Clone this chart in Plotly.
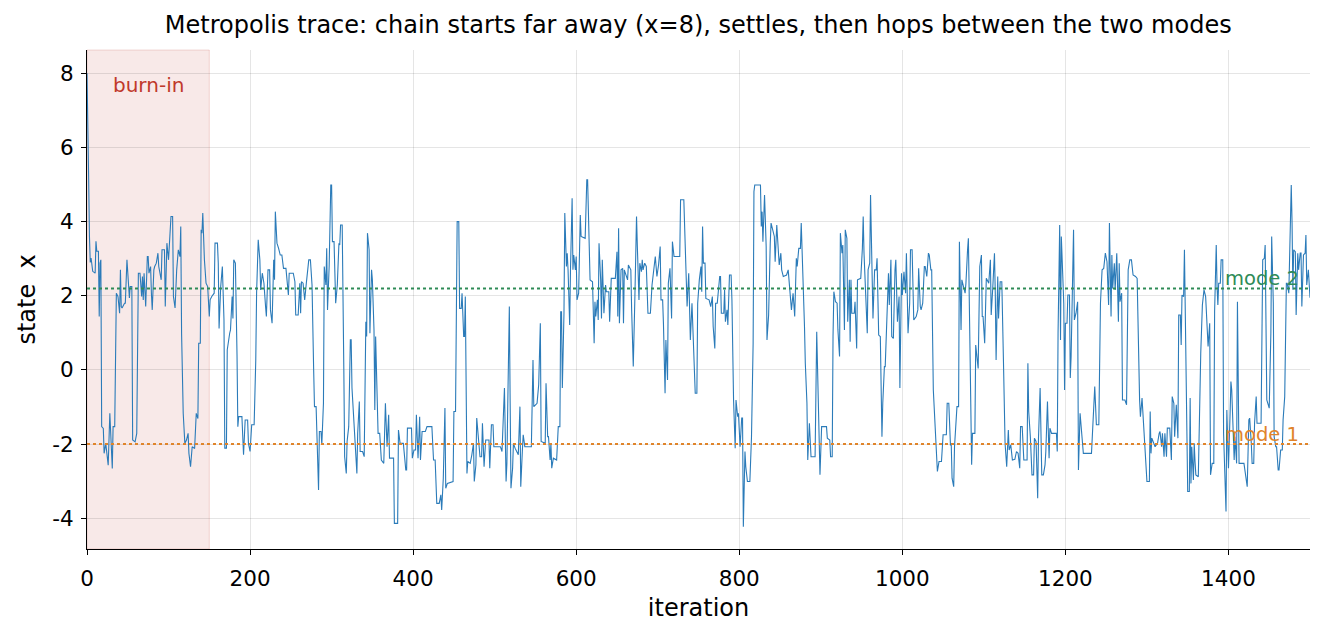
import plotly.graph_objects as go

# Metropolis chain trace: (iteration, state x)
trace = [
    (0, 8.0), (1, 6.9), (2, 5.2), (3, 3.6), (4, 2.9), (5, 3.02), (7, 2.66), (10, 2.61),
    (11, 3.47), (12, 3.20), (14, 3.20), (15, 1.44), (16, 2.88), (17, 2.97), (18, -1.53),
    (20, -1.58), (21, -2.25), (23, -1.98), (24, -2.25), (26, -2.57), (28, -1.17), (29, -1.71),
    (31, -2.66), (32, -1.53), (34, -1.53), (36, 2.07), (38, 1.98), (40, 1.53), (41, 2.70),
    (42, 1.71), (43, 1.67), (46, 1.80), (47, 1.80), (49, 2.97), (50, 2.52), (52, 1.94),
    (53, 2.25), (55, 2.25), (56, -1.89), (59, -1.94), (61, -1.71), (63, 2.61), (65, 2.61),
    (67, 1.98), (68, 2.52), (69, 1.89), (70, 2.61), (72, 1.71), (74, 3.06), (75, 3.06),
    (76, 2.61), (78, 2.79), (79, 2.07), (80, 1.62), (82, 2.70), (83, 2.79), (85, 2.88),
    (87, 3.15), (88, 2.79), (91, 2.43), (92, 3.24), (95, 3.24), (96, 1.71), (98, 3.42),
    (100, 2.97), (101, 3.51), (103, 4.14), (105, 4.14), (106, 1.98), (108, 1.67), (110, 2.70),
    (112, 3.24), (114, 3.06), (115, 3.87), (116, 0.99), (118, -1.17), (120, -1.98), (122, -1.89),
    (124, -1.71), (125, -2.25), (127, -2.61), (129, -2.07), (132, -2.12), (134, -1.17),
    (136, -1.31), (137, 0.72), (139, 0.72), (140, 3.78), (141, 3.69), (142, 4.23), (143, 3.33),
    (144, 2.97), (146, 2.34), (148, 2.25), (150, 1.44), (151, 1.89), (153, 1.98), (156, 2.07),
    (157, 3.42), (160, 3.42), (161, 2.88), (162, 1.12), (164, 2.25), (166, 2.79), (168, 1.35),
    (169, -2.11), (171, -2.11), (172, 0.54), (175, 0.99), (176, 1.08), (178, 1.98), (179, 1.39),
    (180, 2.97), (182, 2.88), (184, 0.40), (185, -1.53), (186, -1.26), (190, -1.26), (192, -2.29),
    (194, -1.35), (197, -1.35), (198, -1.98), (200, -2.20), (202, -1.48), (205, -1.48),
    (207, 0.27), (208, 2.07), (210, 3.51), (212, 2.97), (213, 2.16), (215, 2.61), (217, 2.34),
    (219, 1.71), (220, 1.44), (222, 2.70), (224, 2.70), (225, 1.62), (227, 1.26), (229, 2.97),
    (230, 2.43), (231, 4.27), (233, 3.42), (235, 3.28), (237, 3.10), (239, 3.10), (241, 2.74),
    (244, 2.74), (247, 2.02), (248, 2.61), (253, 2.61), (255, 2.38), (256, 1.48), (259, 1.48),
    (261, 2.34), (262, 1.53), (263, 2.38), (265, 2.34), (267, 1.89), (269, 2.34), (272, 2.97),
    (274, 2.97), (276, 2.29), (278, 0.0), (279, -0.99), (281, -0.99), (283, -3.15), (284, -3.24),
    (285, -1.66), (287, -1.66), (288, -2.02), (290, -0.90), (291, 2.79), (293, 2.29), (294, 3.28),
    (295, 1.62), (297, 2.79), (298, 4.09), (299, 4.99),
    (300, 4.99), (301, 3.46), (303, 3.46), (304, 2.29), (305, 1.80), (307, 2.29), (309, 3.42),
    (310, 3.37), (311, 3.91), (313, 3.91), (314, 2.52), (315, 0.0), (316, -2.34), (318, -2.79),
    (319, -1.93), (321, -1.53), (323, 0.81), (324, 0.81), (325, -0.49), (327, -1.21), (329, -1.80),
    (331, -2.79), (332, -1.71), (334, -0.85), (335, -2.20), (338, -2.20), (340, -2.34), (342, 1.30),
    (343, 0.90), (344, 3.69), (346, 3.24), (347, 0.99), (349, 2.70), (350, 2.43), (352, 1.08),
    (353, -1.08), (354, 0.90), (356, -1.17), (357, -1.71), (359, -1.71), (361, -2.43), (364, -2.52),
    (366, -0.90), (368, -2.07), (370, -1.21), (371, -2.38), (376, -2.38), (377, -4.14), (381, -4.14),
    (382, -1.62), (384, -1.98), (388, -1.98), (391, -2.70), (392, -2.70), (393, -1.57), (398, -1.57),
    (399, -2.38), (401, -2.16), (403, -2.16), (404, -1.21), (406, -2.38), (408, -1.26), (409, -2.43),
    (411, -1.66), (415, -1.66), (417, -1.53), (423, -1.53), (425, -2.43), (427, -2.43), (429, -3.60),
    (432, -3.60), (434, -3.37), (435, -3.78), (437, -2.92), (439, -1.03), (440, -3.19), (442, -3.06),
    (449, -3.01), (450, -1.12),
    (452, -1.12), (454, 4.00), (456, 4.00), (457, 1.66), (459, 1.66), (460, 2.07), (462, 0.90),
    (463, 0.90), (464, 1.98), (466, -2.79), (467, -2.47), (470, -2.52), (472, -2.29), (474, -1.98),
    (475, -3.01), (477, -2.56), (478, -1.30), (480, -1.80), (482, -2.34), (484, -2.34), (485, -1.44),
    (487, -2.61), (489, -1.89), (493, -1.89), (494, -2.65), (496, -1.48), (498, -1.48), (499, -2.07),
    (507, -2.07), (509, -2.20), (511, -1.21), (512, -0.49), (514, -3.01), (515, -2.52), (516, -1.03),
    (518, 1.71), (519, -0.90), (520, -3.19), (522, -2.65), (523, -1.98), (525, -2.11), (529, -2.29),
    (531, -0.99), (532, -3.15), (534, -2.16), (535, -1.75), (537, -2.07), (545, -2.07), (547, 0.27),
    (548, -0.99), (552, -0.90), (554, -0.40), (556, 1.26), (557, -1.93), (562, -1.98), (563, -0.36),
    (565, -1.80), (566, -1.80), (568, -2.43), (569, -1.98), (570, -2.65), (572, -2.38), (576, -2.43),
    (578, -1.53), (580, -1.53), (581, 1.57), (582, 1.57), (583, -0.49), (585, 1.53), (586, 4.23),
    (588, 2.79), (589, 3.15), (590, 2.70), (592, 1.21), (593, 2.70), (595, 4.63),
    (596, 2.70), (597, 3.10), (599, 2.70), (600, 3.06), (601, 1.89), (603, 2.07), (605, 4.18),
    (606, 3.60), (611, 3.55), (613, 5.13), (614, 5.13), (616, 3.73), (617, 2.43), (620, 2.38),
    (622, 0.72), (623, 1.84), (624, 1.44), (626, 1.89), (627, 1.35), (628, 3.42), (630, 2.43),
    (631, 1.39), (632, 2.97), (634, 1.53), (636, 2.29), (637, 2.11), (640, 2.11), (641, 1.30),
    (643, 2.47), (648, 2.47), (650, 3.19), (651, 1.44), (652, 3.82), (653, 1.26), (655, 2.70),
    (657, 2.74), (658, 1.26), (659, 2.70), (663, 2.43), (664, 2.83), (667, 2.70), (668, 1.62),
    (670, 0.09), (672, 1.98), (674, 4.14), (675, 3.33), (677, 1.89), (678, 2.88), (680, 2.65),
    (681, 2.97), (682, 2.70), (684, 2.88), (686, 2.79), (688, 1.53), (691, 1.53), (693, 2.29),
    (695, 2.70), (697, 3.06), (699, 2.52), (701, 2.83), (703, 3.33), (704, 1.89), (706, 1.89),
    (707, 1.26), (709, -0.63), (710, 0.81), (712, -0.27), (713, 2.34), (715, 2.74), (717, 1.39),
    (718, 3.46), (720, 3.06), (727, 3.06), (728, 4.59), (732, 4.59), (734, 2.79), (736, 1.71),
    (738, 2.61), (740, 0.81),
    (742, 1.80), (744, 0.81), (746, -0.63), (748, -0.63), (749, 1.80), (751, 2.43), (753, 2.79),
    (754, 2.11), (755, 3.87), (756, 2.88), (758, 2.88), (759, 1.93), (763, 1.89), (765, 1.71),
    (767, 1.98), (768, 1.17), (770, 0.58), (771, 1.80), (773, 1.80), (776, 2.52), (777, 2.52),
    (778, 1.53), (781, 1.53), (782, 2.16), (783, 1.30), (785, 1.62), (786, 1.21), (788, 2.56),
    (790, 2.56), (791, 1.89), (793, -0.81), (795, -2.11), (796, -0.81), (798, -1.26), (799, -1.17),
    (801, -2.07), (803, -1.30), (804, -1.30), (805, -4.23), (807, -2.20), (808, -2.61), (810, -3.01),
    (813, -3.01), (815, -1.80), (817, 0.72), (818, 4.81), (819, 4.99), (826, 4.99), (827, 3.87),
    (828, 4.27), (829, 3.46), (831, 4.72), (833, 3.33), (834, 0.81), (836, 1.48), (838, 3.42),
    (839, 3.96), (843, 3.60), (844, 2.92), (846, 3.91), (848, 2.88), (849, 2.83), (851, 3.15),
    (852, 2.70), (854, 2.52), (858, 2.56), (860, 2.70), (862, 2.11), (864, 1.62), (866, 2.07),
    (868, 1.44), (870, 3.01), (871, 2.79), (873, 3.28), (875, 3.28), (876, 3.96), (878, 2.70),
    (880, 1.17), (881, 0.18), (883, -0.90), (884, -2.43), (886, -1.44), (888, -2.34), (891, -2.34),
    (893, -2.34), (895, 1.03), (897, -0.63), (899, -2.83), (901, -1.53), (907, -1.53), (908, -1.84),
    (911, -1.89), (912, -2.34), (914, -2.34), (915, 0.90), (916, 2.11), (918, 1.84), (920, 1.80),
    (921, 1.08), (923, 0.36), (924, 3.69), (926, 3.15), (927, 3.37), (929, 1.08), (930, 3.78),
    (932, 3.55), (933, 1.30), (935, 2.43), (936, 0.76), (937, 2.43), (938, 1.53), (941, 1.53),
    (942, 1.84), (944, 0.58), (945, 2.43), (949, 2.47), (951, 3.28), (952, 4.14), (953, 3.15),
    (955, 2.25), (957, 0.99), (958, 2.70), (960, 2.88), (961, 4.72), (963, 2.88), (964, 1.39),
    (966, 2.70), (968, 2.70), (969, 3.01), (971, 0.94), (973, 0.90), (975, -1.80), (976, -0.90),
    (978, 0.09), (979, 0.09), (981, 1.62), (983, 2.61), (984, 1.75), (986, 2.97), (987, 0.90),
    (989, 0.85), (991, 2.70), (992, 2.97), (994, 1.30), (996, 1.98), (997, -0.49), (999, 2.61),
    (1000, 2.02), (1002, 2.65), (1004, 2.07), (1005, 3.15), (1007, 0.99), (1009, 1.80), (1010, 3.24),
    (1012, 3.24), (1014, 1.35), (1017, 1.44), (1019, 1.62), (1020, 2.74), (1022, 1.71), (1023, 1.62),
    (1025, 1.80), (1027, 2.79), (1028, 2.79), (1030, 2.52), (1032, 3.15), (1033, 3.10), (1035, 2.70),
    (1036, 2.70), (1038, -0.54),
    (1040, -1.48), (1041, -2.07), (1043, -2.74), (1045, -2.47), (1048, -2.47), (1050, -1.75),
    (1054, -1.75), (1055, -0.90), (1057, -0.90), (1059, -2.02), (1060, -2.02), (1061, -2.92),
    (1063, -3.15), (1064, -2.07), (1065, -1.71), (1067, -0.99), (1069, -0.99), (1070, 3.46),
    (1072, 1.08), (1073, 2.43), (1077, 2.07), (1078, 2.34), (1080, 3.24), (1081, 3.55), (1083, 0.54),
    (1085, -2.56), (1086, -1.71), (1089, -1.71), (1090, 0.67), (1091, 0.45), (1093, 0.04),
    (1094, 1.44), (1095, 2.79), (1097, 3.10), (1098, 1.44), (1099, 1.44), (1101, 0.72), (1103, 2.47),
    (1106, 2.34), (1108, 2.97), (1109, 1.48), (1111, 2.25), (1113, 3.15), (1114, 2.07), (1115, 0.27),
    (1117, 2.52), (1118, 1.39), (1120, 2.38), (1122, 2.38), (1124, 0.27), (1126, -1.98), (1128, -2.61),
    (1130, -1.62), (1131, -2.16), (1133, -2.02), (1135, -2.43), (1138, -2.41), (1140, -2.20),
    (1142, -2.25), (1144, -2.65), (1145, -1.53), (1147, -1.53), (1149, -2.43), (1153, -2.43),
    (1154, 0.18), (1155, -1.12), (1157, -1.80), (1159, -2.83), (1161, -2.83), (1162, -1.84),
    (1164, -1.93), (1166, -3.46), (1167, -1.84), (1169, -0.49), (1171, -2.83), (1173, -2.83),
    (1175, -2.56), (1176, -2.20), (1178, -0.85), (1180, -2.38), (1181, -1.57), (1183, -1.71),
    (1187, -1.71), (1189, -1.71), (1190, -2.20), (1191, 0.99), (1193, 3.91), (1194, 0.81),
    (1195, 3.60), (1196, 3.06), (1198, 1.80), (1199, -0.54), (1200, 1.26), (1202, 1.26), (1203, 2.02),
    (1205, 2.02), (1206, -0.22), (1207, 0.36), (1209, 3.64), (1210, 3.78), (1211, 1.35), (1213, 1.53),
    (1215, 1.84), (1216, -2.70), (1218, -1.17), (1220, -1.62), (1222, -2.25), (1232, -2.25),
    (1234, -1.35), (1236, -0.45), (1238, -1.48), (1241, -1.48), (1243, 1.80), (1245, 2.70),
    (1247, 2.74), (1249, 3.15), (1251, 2.92), (1253, 1.75), (1254, 3.96), (1256, 1.44), (1257, 3.10),
    (1258, 2.20), (1260, 2.88), (1261, 2.16), (1263, 3.15), (1265, 1.30), (1266, 2.88), (1267, 1.84),
    (1269, 2.07), (1270, -0.81), (1273, -0.81), (1275, -0.94), (1277, 2.70), (1279, 2.97),
    (1281, 2.97), (1283, 2.56), (1286, 2.52), (1288, 2.47), (1291, -0.81), (1292, -1.26),
    (1294, -0.76), (1296, -1.57), (1298, -2.34), (1300, -3.01), (1303, -3.01), (1304, -1.12),
    (1305, -2.25), (1306, -1.84), (1310, -2.07), (1313, -1.98), (1315, -1.71), (1316, -1.66),
    (1318, -2.07), (1319, -1.71), (1321, -2.34), (1322, -1.71), (1324, -2.34), (1325, -1.57),
    (1328, -1.57),
    (1330, -2.43), (1331, -0.72), (1333, -0.90), (1334, -1.80), (1336, -0.94), (1338, -1.84),
    (1339, 1.48), (1341, 1.48), (1342, 0.67), (1343, 2.02), (1345, 1.98), (1346, 3.24), (1347, 1.89),
    (1349, -1.80), (1350, -3.28), (1352, -3.28), (1353, -0.76), (1354, -3.06), (1355, -2.07),
    (1357, -2.97), (1358, -1.98), (1359, -2.47), (1360, -2.83), (1363, -2.88), (1364, -1.44),
    (1366, 0.45), (1368, 1.75), (1369, 1.98), (1370, 2.16), (1372, 1.98), (1373, 1.53), (1375, 0.63),
    (1377, 1.26), (1378, -2.83), (1380, -2.52), (1382, -2.52), (1383, 1.57), (1385, 3.37),
    (1386, 2.25), (1387, 1.75), (1388, 2.34), (1390, 2.34), (1391, 2.97), (1393, 2.97), (1394, -1.71),
    (1395, -2.34), (1397, -3.82), (1398, -1.08), (1399, -2.25), (1400, -2.65), (1402, -1.17),
    (1403, -0.31), (1404, -0.54), (1405, -1.08), (1407, -2.43), (1408, -1.80), (1410, -2.52),
    (1411, 1.84), (1413, -2.52), (1419, -2.52), (1420, -2.70), (1422, -2.92), (1423, -3.15),
    (1425, -1.35), (1426, -1.30), (1428, -1.98), (1429, -2.52), (1431, -2.52), (1432, -1.44),
    (1434, -0.72), (1435, -1.44), (1440, -1.44), (1442, 2.97), (1444, 3.01), (1445, 3.37),
    (1447, -0.81), (1449, -0.99), (1450, -1.03), (1452, 0.99), (1453, 3.60), (1455, 1.80),
    (1456, -1.80), (1458, -2.07), (1459, -2.07), (1461, -2.70), (1462, -2.70), (1464, -2.16),
    (1466, -2.16), (1467, -1.35), (1469, -0.72), (1471, 2.34), (1472, 2.34), (1474, 2.07),
    (1476, 4.23), (1477, 4.99), (1478, 3.96), (1479, 2.16), (1480, 3.24), (1482, 3.19), (1483, 1.48),
    (1485, 3.15), (1486, 2.70), (1488, 3.15), (1489, 3.15), (1490, 1.71), (1492, 3.10), (1494, 3.15),
    (1495, 3.64), (1496, 2.29), (1498, 2.70), (1499, 2.07), (1500, 1.95),
]
iterations = [p[0] for p in trace]
states = [p[1] for p in trace]

mode_values = [-2.0, 2.2]
mode_labels = ["mode 1", "mode 2"]
burn_in_end = 150
x_ticks = [0, 200, 400, 600, 800, 1000, 1200, 1400]
y_ticks = [-4, -2, 0, 2, 4, 6, 8]
y_tick_labels = ["-4", "-2", "0", "2", "4", "6", "8"]

FONT = "DejaVu Sans"
mode_colors = ["#e0842a", "#2e8b57"]

fig = go.Figure()

# burn-in shading
fig.add_shape(type="rect", xref="x", yref="paper", x0=0, x1=burn_in_end, y0=0, y1=1,
              fillcolor="rgba(192,57,43,0.11)", line=dict(color="rgba(192,57,43,0.18)", width=1),
              layer="below")

# mode lines
for v, c in zip(mode_values, mode_colors):
    fig.add_shape(type="line", xref="paper", yref="y", x0=0, x1=1, y0=v, y1=v,
                  line=dict(color=c, width=2, dash="dot"), layer="above")

fig.add_trace(go.Scatter(x=iterations, y=states, mode="lines",
                         line=dict(color="#2b7bb9", width=1.1), showlegend=False))

fig.add_annotation(x=75, y=7.69, text="burn-in", showarrow=False, xref="x", yref="y",
                   font=dict(family=FONT, size=20, color="#c0392b"))
for v, lab, c in zip(mode_values, mode_labels, mode_colors):
    fig.add_annotation(x=1393, y=v, text=lab, showarrow=False, xref="x", yref="y",
                       xanchor="left", yanchor="middle", yshift=10,
                       font=dict(family=FONT, size=19.5, color=c))

fig.update_layout(
    width=1326, height=636,
    margin=dict(l=87, r=16, t=50, b=87),
    paper_bgcolor="white", plot_bgcolor="white",
    font=dict(family=FONT, size=21, color="black"),
    title=dict(text="Metropolis trace: chain starts far away (x=8), settles, then hops between the two modes",
               x=0.5266, xanchor="center", y=1 - 25 / 636, yanchor="middle", yref="container",
               font=dict(family=FONT, size=24, color="black")),
    xaxis=dict(range=[0, 1500], tickvals=x_ticks, showgrid=True, gridcolor="rgba(0,0,0,0.1)",
               gridwidth=1, showline=True, linecolor="black", linewidth=1.2, ticks="outside",
               ticklen=5, tickcolor="black", zeroline=False, ticklabelstandoff=5,
               title=dict(text="iteration", font=dict(size=24), standoff=9),
               tickfont=dict(size=21.5)),
    yaxis=dict(range=[-4.83, 8.63], tickvals=y_ticks, ticktext=y_tick_labels, showgrid=True,
               gridcolor="rgba(0,0,0,0.1)", gridwidth=1, showline=True, linecolor="black",
               linewidth=1.2, ticks="outside", ticklen=5, tickcolor="black", zeroline=False,
               ticklabelstandoff=3,
               title=dict(text="state\u00a0 x", font=dict(size=24), standoff=9),
               tickfont=dict(size=21.5)),
)

fig.write_html("out.html")
